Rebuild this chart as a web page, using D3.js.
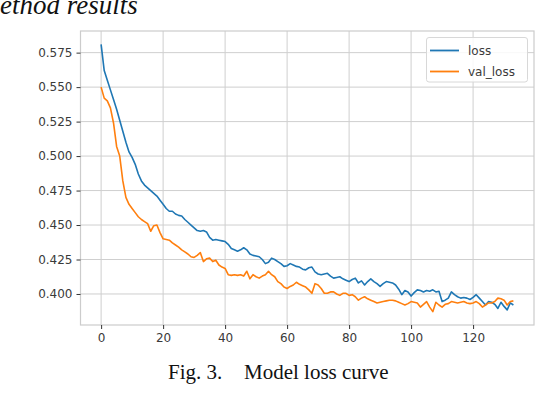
<!DOCTYPE html>
<html>
<head>
<meta charset="utf-8">
<script src="https://cdn.jsdelivr.net/npm/d3@7"></script>
<style>
  html, body { margin: 0; padding: 0; background: #fff; }
  svg { display: block; }
</style>
</head>
<body>
<svg id="chart" width="542" height="394"></svg>
<script>
// ---- data ----
const lossValues = [
  0.581, 0.562, 0.555, 0.548, 0.541, 0.534, 0.526, 0.518, 0.510, 0.503,
  0.499, 0.494, 0.487, 0.482, 0.479, 0.477, 0.475, 0.473, 0.471, 0.468,
  0.465, 0.462, 0.460, 0.460, 0.458, 0.457, 0.4565, 0.454, 0.452, 0.450,
  0.448, 0.446, 0.4455, 0.446, 0.445, 0.441, 0.439, 0.4395, 0.439, 0.4385,
  0.438, 0.436, 0.433, 0.432, 0.431, 0.432, 0.4335, 0.432, 0.429, 0.428,
  0.4275, 0.427, 0.425, 0.422, 0.423, 0.426, 0.425, 0.4235, 0.422, 0.420,
  0.4205, 0.422, 0.421, 0.420, 0.4195, 0.418, 0.4175, 0.419, 0.4195, 0.416,
  0.4145, 0.414, 0.4145, 0.415, 0.413, 0.4115, 0.412, 0.4125, 0.411, 0.410,
  0.409, 0.4105, 0.4115, 0.408, 0.4095, 0.4065, 0.409, 0.411, 0.409, 0.4075,
  0.4055, 0.4075, 0.409, 0.4085, 0.408, 0.4065, 0.4035, 0.3995, 0.4025, 0.4015,
  0.3985, 0.401, 0.403, 0.4025, 0.4015, 0.4025, 0.402, 0.403, 0.4015, 0.402,
  0.3945, 0.3955, 0.397, 0.4015, 0.3995, 0.398, 0.397, 0.3975, 0.397, 0.396,
  0.3975, 0.3995, 0.397, 0.3945, 0.392, 0.3945, 0.394, 0.3925, 0.3895, 0.394,
  0.391, 0.3885, 0.3935, 0.392
];
const valLossValues = [
  0.550, 0.542, 0.540, 0.535, 0.524, 0.507, 0.500, 0.482, 0.470, 0.465,
  0.462, 0.459, 0.456, 0.454, 0.4525, 0.451, 0.4455, 0.4495, 0.450, 0.4445,
  0.440, 0.4395, 0.439, 0.437, 0.4355, 0.434, 0.432, 0.4305, 0.429, 0.427,
  0.4265, 0.428, 0.430, 0.4235, 0.4255, 0.426, 0.4235, 0.4245, 0.421, 0.4195,
  0.4185, 0.414, 0.4135, 0.414, 0.4135, 0.414, 0.413, 0.4165, 0.411, 0.414,
  0.4125, 0.4115, 0.413, 0.414, 0.4165, 0.414, 0.4125, 0.409, 0.4075, 0.405,
  0.404, 0.4055, 0.4065, 0.4085, 0.407, 0.406, 0.405, 0.403, 0.4005, 0.4075,
  0.4065, 0.404, 0.4005, 0.4005, 0.4015, 0.4015, 0.400, 0.399, 0.4005, 0.4005,
  0.399, 0.3995, 0.398, 0.3955, 0.397, 0.398, 0.3965, 0.3955, 0.3945, 0.3935,
  0.394, 0.3945, 0.395, 0.3955, 0.3955, 0.395, 0.394, 0.393, 0.392, 0.393,
  0.3945, 0.394, 0.3935, 0.3905, 0.3925, 0.3945, 0.3905, 0.3872, 0.394, 0.392,
  0.3905, 0.3925, 0.393, 0.3945, 0.394, 0.3935, 0.394, 0.3945, 0.3935, 0.393,
  0.3935, 0.3945, 0.393, 0.3905, 0.392, 0.3935, 0.3935, 0.3945, 0.397, 0.3965,
  0.3955, 0.392, 0.3945, 0.395
];
const seriesNames = ["loss", "val_loss"];
const seriesColors = ["#1f77b4", "#ff7f0e"];
const xTicks = [0, 20, 40, 60, 80, 100, 120];
const yTicks = [0.400, 0.425, 0.450, 0.475, 0.500, 0.525, 0.550, 0.575];
const headingText = "ethod results";
const captionLabel = "Fig. 3.";
const captionText = "Model loss curve";

// ---- layout ----
const svg = d3.select("#chart");
const plot = { left: 80.5, right: 534, top: 31, bottom: 325 };

const series = [lossValues, valLossValues];
const nPts = lossValues.length;

// matplotlib-like 5% margins
const xMin = 0, xMax = nPts - 1;
const xPad = (xMax - xMin) * 0.05;
const allVals = lossValues.concat(valLossValues);
const yMin = d3.min(allVals), yMax = d3.max(allVals);
const yPad = (yMax - yMin) * 0.05;

const x = d3.scaleLinear().domain([xMin - xPad, xMax + xPad]).range([plot.left, plot.right]);
const y = d3.scaleLinear().domain([yMin - yPad, yMax + yPad]).range([plot.bottom, plot.top]);

// heading text (cut at top, as in the page crop)
svg.append("text")
  .attr("x", 0).attr("y", 14)
  .attr("font-family", "Liberation Serif, Times New Roman, serif")
  .attr("font-style", "italic")
  .attr("font-size", 27)
  .attr("fill", "#111")
  .text(headingText);

// grid
const gridColor = "#cfcfcf";
const g = svg.append("g");
g.append("g").selectAll("line").data(xTicks).join("line")
  .attr("x1", d => x(d)).attr("x2", d => x(d))
  .attr("y1", plot.top).attr("y2", plot.bottom)
  .attr("stroke", gridColor).attr("stroke-width", 1);
g.append("g").selectAll("line").data(yTicks).join("line")
  .attr("x1", plot.left).attr("x2", plot.right)
  .attr("y1", d => y(d)).attr("y2", d => y(d))
  .attr("stroke", gridColor).attr("stroke-width", 1);

// spines
g.append("rect")
  .attr("x", plot.left).attr("y", plot.top)
  .attr("width", plot.right - plot.left).attr("height", plot.bottom - plot.top)
  .attr("fill", "none").attr("stroke", "#cccccc").attr("stroke-width", 1.2);

// axes
const fontFam = "DejaVu Sans, sans-serif";
const xAxis = d3.axisBottom(x).tickValues(xTicks).tickFormat(d3.format("d")).tickSize(4).tickPadding(4);
const yAxis = d3.axisLeft(y).tickValues(yTicks).tickFormat(d3.format(".3f")).tickSize(4).tickPadding(4);

const gx = svg.append("g").attr("transform", `translate(0,${plot.bottom})`).call(xAxis);
const gy = svg.append("g").attr("transform", `translate(${plot.left},0)`).call(yAxis);
[gx, gy].forEach(a => {
  a.select(".domain").remove();
  a.selectAll(".tick line").attr("stroke", "#333").attr("stroke-width", 1);
  a.selectAll(".tick text").attr("fill", "#3a3a3a")
    .attr("font-family", fontFam).attr("font-size", 12);
});

// lines
const line = d3.line().x((d, i) => x(i)).y(d => y(d));
series.forEach((vals, k) => {
  svg.append("path")
    .datum(vals)
    .attr("d", line)
    .attr("fill", "none")
    .attr("stroke", seriesColors[k])
    .attr("stroke-width", 1.6)
    .attr("stroke-linejoin", "round");
});

// legend
const leg = svg.append("g");
leg.append("rect")
  .attr("x", 426.5).attr("y", 37.5).attr("width", 101).attr("height", 44.5)
  .attr("rx", 2.5)
  .attr("fill", "#fff").attr("fill-opacity", 0.85)
  .attr("stroke", "#d8d8d8").attr("stroke-width", 1);
seriesNames.forEach((name, k) => {
  const yy = 50.5 + k * 21;
  leg.append("line")
    .attr("x1", 430).attr("x2", 459).attr("y1", yy).attr("y2", yy)
    .attr("stroke", seriesColors[k]).attr("stroke-width", 1.8);
  leg.append("text")
    .attr("x", 468).attr("y", yy + 4)
    .attr("font-family", fontFam).attr("font-size", 12)
    .attr("fill", "#3a3a3a")
    .text(name);
});

// caption
const cap = svg.append("text")
  .attr("y", 379)
  .attr("font-family", "Liberation Serif, Times New Roman, serif")
  .attr("font-size", 21)
  .attr("fill", "#111");
cap.append("tspan").attr("x", 168).text(captionLabel);
cap.append("tspan").attr("x", 244).text(captionText);
</script>
</body>
</html>
